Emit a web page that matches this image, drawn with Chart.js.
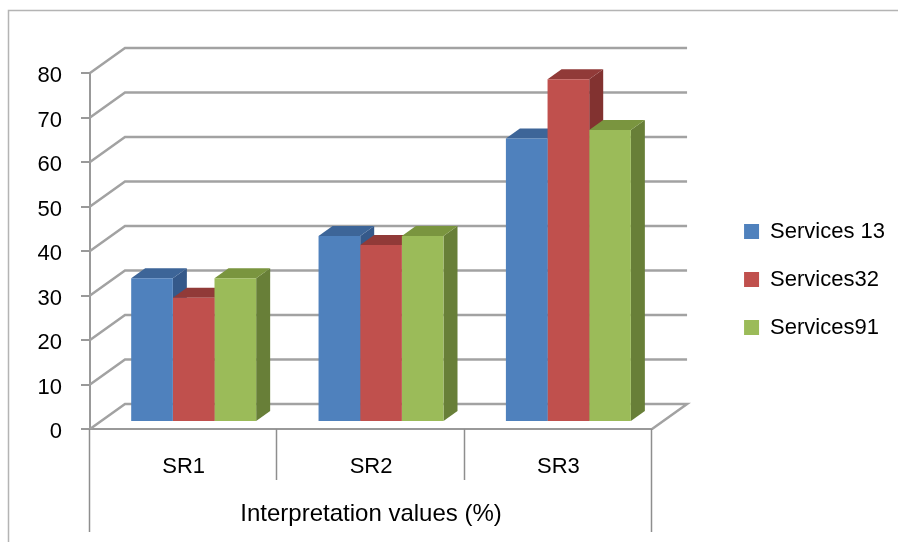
<!DOCTYPE html>
<html>
<head>
<meta charset="utf-8">
<script src="https://cdn.jsdelivr.net/npm/chart.js@4.4.1/dist/chart.umd.min.js"></script>
<style>
  html, body { margin: 0; padding: 0; background: #ffffff; }
  #chart { display: block; }
</style>
</head>
<body>
<canvas id="chart" width="898" height="542"></canvas>
<script>
// Categories and series values (percent)
const categories = ['SR1', 'SR2', 'SR3'];
const services13 = [32.3, 41.8, 63.7];
const services32 = [27.9, 39.8, 77.0];
const services91 = [32.3, 41.8, 65.6];
const seriesNames = ['Services 13', 'Services32', 'Services91'];
const yTickMin = 0;
const yTickMax = 80;
const yTickStep = 10;

// Styling of the pseudo-3D look
const FRONT_COLORS = ['#4F81BD', '#C0504D', '#9BBB59'];
const SIDE_COLORS = ['#35598A', '#823230', '#687F38'];
const TOP_COLORS = ['#3D6598', '#913A38', '#7A953F'];
const WALL = { dx: 35, dy: -25 };      // depth of the floor / back wall
const BAR_SHIFT = { dx: 10, dy: -7 };  // where the bar row sits in depth
const BAR_DEPTH = { dx: 14, dy: -10 }; // thickness of each bar
const GRID_COLOR = '#a2a2a2';
const AXIS_COLOR = '#999999';
const FONT_FAMILY = '"Liberation Sans", Arial, sans-serif';

function barBox(bar) {
  const p = bar.getProps(['x', 'y', 'base', 'width'], true);
  return {
    l: p.x - p.width / 2,
    r: p.x + p.width / 2,
    top: Math.min(p.y, p.base),
    bottom: Math.max(p.y, p.base)
  };
}

const depth3d = {
  id: 'depth3d',
  beforeDraw(chart) {
    const ctx = chart.ctx;
    ctx.save();
    ctx.fillStyle = '#ffffff';
    ctx.fillRect(0, 0, chart.width, chart.height);
    // outer frame (top and left edges)
    ctx.strokeStyle = '#b4b4b4';
    ctx.lineWidth = 1.5;
    ctx.beginPath();
    ctx.moveTo(chart.width, 10.5);
    ctx.lineTo(8.5, 10.5);
    ctx.lineTo(8.5, chart.height);
    ctx.stroke();
    ctx.restore();
  },
  beforeDatasetsDraw(chart) {
    const ctx = chart.ctx;
    const ys = chart.scales.y;
    const { left, right } = chart.chartArea;
    // back wall gridlines and floor
    ctx.save();
    ctx.strokeStyle = GRID_COLOR;
    ctx.lineWidth = 2.5;
    ys.ticks.forEach(t => {
      const y = ys.getPixelForValue(t.value);
      ctx.beginPath();
      ctx.moveTo(left, y);
      ctx.lineTo(left + WALL.dx, y + WALL.dy);
      ctx.lineTo(right + WALL.dx, y + WALL.dy);
      if (t.value === yTickMin) {
        ctx.lineTo(right, y);
      }
      ctx.stroke();
    });
    ctx.restore();

    // side and top faces of every bar, series by series from left to right;
    // the front faces painted afterwards by the controller cover what is hidden
    ctx.save();
    ctx.translate(BAR_SHIFT.dx, BAR_SHIFT.dy);
    const metas = chart.getSortedVisibleDatasetMetas();
    for (let c = 0; c < categories.length; c++) {
      metas.forEach(meta => {
        const i = meta.index;
        const bar = meta.data[c];
        if (!bar) return;
        const b = barBox(bar);
        ctx.fillStyle = SIDE_COLORS[i];
        ctx.beginPath();
        ctx.moveTo(b.r, b.top);
        ctx.lineTo(b.r + BAR_DEPTH.dx, b.top + BAR_DEPTH.dy);
        ctx.lineTo(b.r + BAR_DEPTH.dx, b.bottom + BAR_DEPTH.dy);
        ctx.lineTo(b.r, b.bottom);
        ctx.closePath();
        ctx.fill();
        ctx.fillStyle = TOP_COLORS[i];
        ctx.beginPath();
        ctx.moveTo(b.l, b.top);
        ctx.lineTo(b.l + BAR_DEPTH.dx, b.top + BAR_DEPTH.dy);
        ctx.lineTo(b.r + BAR_DEPTH.dx, b.top + BAR_DEPTH.dy);
        ctx.lineTo(b.r, b.top);
        ctx.closePath();
        ctx.fill();
      });
    }
    ctx.restore();
  },
  beforeDatasetDraw(chart) {
    chart.ctx.save();
    chart.ctx.translate(BAR_SHIFT.dx, BAR_SHIFT.dy);
  },
  afterDatasetDraw(chart) {
    chart.ctx.restore();
  },
  afterDraw(chart) {
    // category separators below the horizontal axis
    const ctx = chart.ctx;
    const xs = chart.scales.x;
    const bottom = chart.chartArea.bottom;
    const band = xs.getPixelForValue(1) - xs.getPixelForValue(0);
    const start = xs.getPixelForValue(0) - band / 2;
    ctx.save();
    ctx.strokeStyle = '#8e8e8e';
    ctx.lineWidth = 1.5;
    for (let k = 0; k <= categories.length; k++) {
      const x = Math.round(start + k * band) - 0.5;
      const outer = (k === 0 || k === categories.length);
      ctx.beginPath();
      ctx.moveTo(x, bottom);
      ctx.lineTo(x, outer ? 532 : 480);
      ctx.stroke();
    }
    ctx.restore();
  }
};

const seriesValues = [services13, services32, services91];

new Chart(document.getElementById('chart'), {
  type: 'bar',
  data: {
    labels: categories,
    datasets: seriesValues.map((vals, i) => ({
      label: seriesNames[i],
      data: vals,
      backgroundColor: FRONT_COLORS[i],
      borderWidth: 0,
      categoryPercentage: 0.667,
      barPercentage: 1.0,
      clip: false
    }))
  },
  options: {
    responsive: false,
    devicePixelRatio: 1,
    animation: false,
    layout: { padding: { left: 0, top: 17, right: 3, bottom: 0 } },
    plugins: {
      legend: {
        position: 'right',
        align: 'center',
        maxWidth: 240,
        labels: {
          boxWidth: 15,
          boxHeight: 15,
          padding: 26,
          color: '#000000',
          font: { family: FONT_FAMILY, size: 22 }
        }
      },
      tooltip: { enabled: false }
    },
    scales: {
      x: {
        type: 'category',
        grid: { display: false, drawTicks: false },
        border: { display: true, color: AXIS_COLOR, width: 2 },
        ticks: { color: '#000000', padding: 25, font: { family: FONT_FAMILY, size: 22 } },
        title: {
          display: true,
          text: 'Interpretation values (%)',
          color: '#000000',
          font: { family: FONT_FAMILY, size: 24 },
          padding: { top: 0, bottom: 13 }
        },
        afterFit(scale) { scale.height = 113; }
      },
      y: {
        min: yTickMin,
        max: yTickMax,
        ticks: { stepSize: yTickStep, padding: 19, labelOffset: 3, color: '#000000', font: { family: FONT_FAMILY, size: 22 } },
        grid: { drawOnChartArea: false, tickLength: 9, color: AXIS_COLOR, lineWidth: 2 },
        border: { display: true, color: AXIS_COLOR, width: 2 },
        afterFit(scale) { scale.width = 90; }
      },
      // empty margins around the plot: room for the back wall and the legend gap
      gapTop: {
        axis: 'x',
        position: 'top',
        display: true,
        grid: { display: false, drawTicks: false },
        border: { display: false },
        ticks: { display: false },
        afterFit(scale) { scale.height = 56; }
      },
      gapRight: {
        axis: 'y',
        position: 'right',
        display: true,
        grid: { display: false, drawTicks: false },
        border: { display: false },
        ticks: { display: false },
        afterFit(scale) { scale.width = 66; }
      }
    }
  },
  plugins: [depth3d]
});
</script>
</body>
</html>
